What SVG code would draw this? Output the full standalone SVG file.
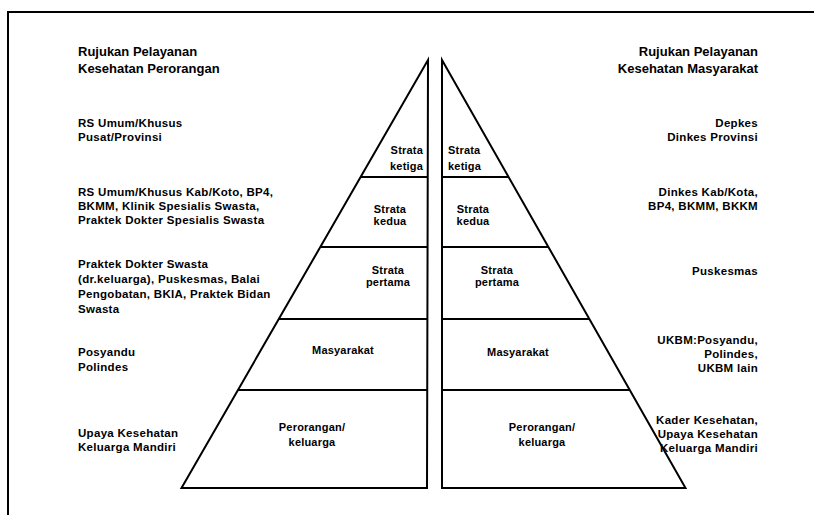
<svg xmlns="http://www.w3.org/2000/svg" width="814" height="515" viewBox="0 0 814 515">
<style>
.ln{fill:none;stroke:#000;stroke-width:2;stroke-linejoin:miter}
.dv{stroke:#000;stroke-width:2}
.h{font-family:"Liberation Sans",Arial,sans-serif;font-weight:bold;font-size:13px;fill:#000}
.t{font-family:"Liberation Sans",Arial,sans-serif;font-weight:bold;font-size:11.5px;letter-spacing:0.3px;fill:#000}
.p{font-family:"Liberation Sans",Arial,sans-serif;font-weight:bold;font-size:11px;letter-spacing:0.2px;fill:#000}
.r{text-anchor:end}
.c{text-anchor:middle}
</style>
<rect width="814" height="515" fill="#fff"/>
<g id="frame"><path class="ln" d="M8,515 L8,12 L814,12"/></g>

<g id="headings">
<text class="h" x="78" y="56">Rujukan Pelayanan</text>
<text class="h" x="78" y="73">Kesehatan Perorangan</text>
<text class="h r" x="758" y="56">Rujukan Pelayanan</text>
<text class="h r" x="758" y="73">Kesehatan Masyarakat</text>
</g>

<g id="left-pyramid">
<path class="ln" d="M428,60 L181.5,488 L427,488 Z"/>
<line class="dv" x1="360.6" y1="177" x2="427" y2="177"/>
<line class="dv" x1="320.3" y1="247" x2="427" y2="247"/>
<line class="dv" x1="278.8" y1="319" x2="427" y2="319"/>
<line class="dv" x1="237.9" y1="390" x2="427" y2="390"/>
<g id="l-ketiga"><text class="p r" x="423" y="154">Strata</text><text class="p r" x="423" y="170">ketiga</text></g>
<g id="l-kedua"><text class="p c" x="390" y="213">Strata</text><text class="p c" x="390" y="225">kedua</text></g>
<g id="l-pertama"><text class="p c" x="388" y="274">Strata</text><text class="p c" x="388" y="286">pertama</text></g>
<g id="l-masyarakat"><text class="p c" x="343" y="354">Masyarakat</text></g>
<g id="l-perorangan"><text class="p c" x="312" y="431">Perorangan/</text><text class="p c" x="312" y="446">keluarga</text></g>
</g>

<g id="right-pyramid">
<path class="ln" d="M442,60 L685.5,488 L442,488 Z"/>
<line class="dv" x1="442" y1="177" x2="508.6" y2="177"/>
<line class="dv" x1="442" y1="247" x2="548.4" y2="247"/>
<line class="dv" x1="442" y1="319" x2="589.4" y2="319"/>
<line class="dv" x1="442" y1="390" x2="629.8" y2="390"/>
<g id="r-ketiga"><text class="p" x="448" y="154">Strata</text><text class="p" x="448" y="170">ketiga</text></g>
<g id="r-kedua"><text class="p c" x="473" y="213">Strata</text><text class="p c" x="473" y="225">kedua</text></g>
<g id="r-pertama"><text class="p c" x="497" y="274">Strata</text><text class="p c" x="497" y="286">pertama</text></g>
<g id="r-masyarakat"><text class="p c" x="518" y="356">Masyarakat</text></g>
<g id="r-perorangan"><text class="p c" x="542" y="431">Perorangan/</text><text class="p c" x="542" y="446">keluarga</text></g>
</g>

<g id="left-labels">
<g id="ll1"><text class="t" x="78" y="127">RS Umum/Khusus</text><text class="t" x="78" y="141">Pusat/Provinsi</text></g>
<g id="ll2"><text class="t" x="78" y="196">RS Umum/Khusus Kab/Koto, BP4,</text><text class="t" x="78" y="210">BKMM, Klinik Spesialis Swasta,</text><text class="t" x="78" y="224">Praktek Dokter Spesialis Swasta</text></g>
<g id="ll3"><text class="t" x="78" y="268">Praktek Dokter Swasta</text><text class="t" x="78" y="283">(dr.keluarga), Puskesmas, Balai</text><text class="t" x="78" y="298">Pengobatan, BKIA, Praktek Bidan</text><text class="t" x="78" y="313">Swasta</text></g>
<g id="ll4"><text class="t" x="78" y="356">Posyandu</text><text class="t" x="78" y="371">Polindes</text></g>
<g id="ll5"><text class="t" x="78" y="437">Upaya Kesehatan</text><text class="t" x="78" y="451">Keluarga Mandiri</text></g>
</g>

<g id="right-labels">
<g id="rl1"><text class="t r" x="758" y="127">Depkes</text><text class="t r" x="758" y="141">Dinkes Provinsi</text></g>
<g id="rl2"><text class="t r" x="758" y="196">Dinkes Kab/Kota,</text><text class="t r" x="758" y="210">BP4, BKMM, BKKM</text></g>
<g id="rl3"><text class="t r" x="758" y="275">Puskesmas</text></g>
<g id="rl4"><text class="t r" x="758" y="344">UKBM:Posyandu,</text><text class="t r" x="758" y="358">Polindes,</text><text class="t r" x="758" y="372">UKBM  lain</text></g>
<g id="rl5"><text class="t r" x="758" y="424">Kader Kesehatan,</text><text class="t r" x="758" y="438">Upaya Kesehatan</text><text class="t r" x="758" y="452">Keluarga Mandiri</text></g>
</g>
</svg>
